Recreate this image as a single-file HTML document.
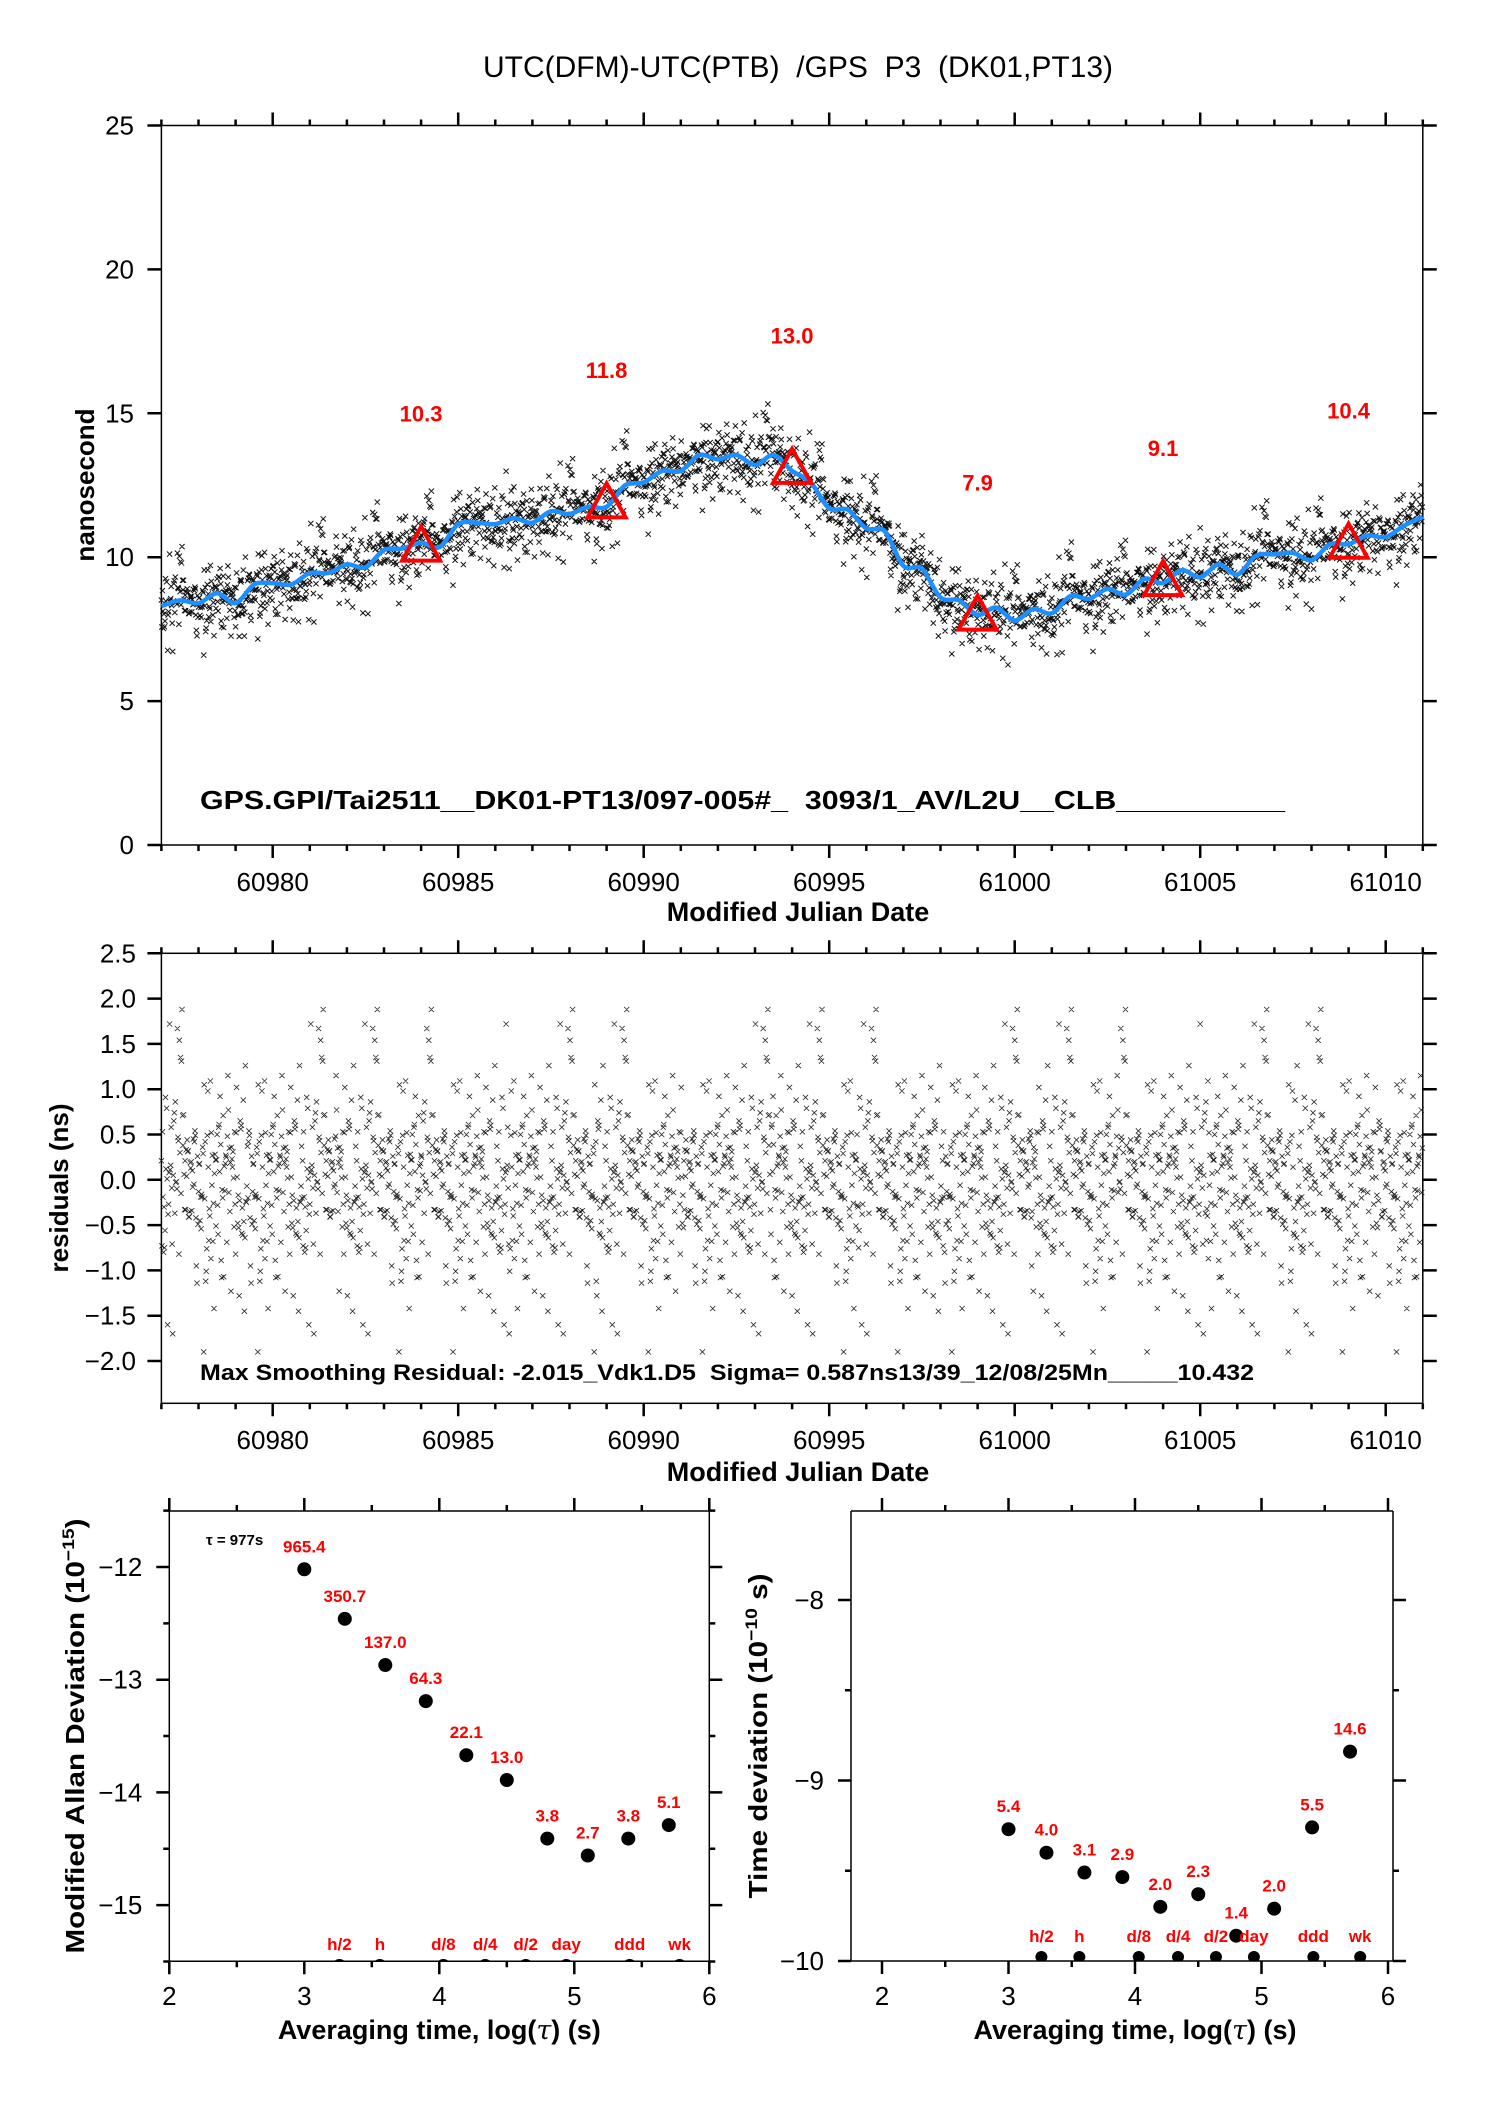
<!DOCTYPE html>
<html><head><meta charset="utf-8">
<style>
html,body{margin:0;padding:0;background:#fff;}
svg{display:block;font-family:"Liberation Sans",sans-serif;}
text{white-space:pre;}
</style></head>
<body>
<svg id="c" width="1488" height="2105" viewBox="0 0 1488 2105" xmlns="http://www.w3.org/2000/svg">
<rect x="0" y="0" width="1488" height="2105" fill="#fff"/>
<text x="798" y="77" font-size="30" text-anchor="middle">UTC(DFM)-UTC(PTB)  /GPS  P3  (DK01,PT13)</text>
<g id="top"></g>
<g id="mid"></g>
<g id="bl"></g>
<g id="br"></g>
</svg>
<script>
// ---------- data ----------
const smoothMjd = [60977,60977.5,60978,60978.5,60979,60979.5,60980,60980.5,60981,60981.5,60982,60982.5,60983,60983.5,60984,60984.5,60985,60985.5,60986,60986.5,60987,60987.5,60988,60988.5,60989,60989.5,60990,60990.5,60991,60991.5,60992,60992.5,60993,60993.5,60994,60994.5,60995,60995.5,60996,60996.5,60997,60997.5,60998,60998.5,60999,60999.5,61000,61000.5,61001,61001.5,61002,61002.5,61003,61003.5,61004,61004.5,61005,61005.5,61006,61006.5,61007,61007.5,61008,61008.5,61009,61009.5,61010,61010.5,61011];
const smoothNs = [8.3,8.5,8.4,8.75,8.4,9.05,9.1,9.05,9.45,9.45,9.75,9.65,10.25,10.3,10.5,10.35,11.15,11.2,11.15,11.35,11.2,11.6,11.5,11.75,11.75,12.5,12.6,13.0,13.0,13.55,13.4,13.55,13.2,13.55,13.0,12.6,11.7,11.65,11.0,10.9,9.7,9.6,8.6,8.5,8.0,8.25,7.8,8.2,8.05,8.65,8.55,8.9,8.7,9.25,9.1,9.55,9.3,9.75,9.4,10.05,10.1,10.15,9.9,10.45,10.45,10.75,10.7,11.1,11.4];
const triMjd = [60984,60989,60994,60999,61004,61009];
const triNs = [10.3,11.8,13.0,7.9,9.1,10.4];
const triLabels = ["10.3","11.8","13.0","7.9","9.1","10.4"];
const residuals = [0.21,-0.35,0.52,-0.08,0.74,-0.61,0.15,-1.12,0.44,-0.27,0.03,0.58,-0.45,1.31,-0.19,0.36,-0.68,0.42,-0.03,-1.45,0.27,0.49,-0.41,0.11,-0.53,0.92,-0.16,0.38,-0.75,0.31,0.07,-0.42,1.67,-0.24,0.48,-0.67,0.19,-0.09,0.65,-1.08,0.29,-0.33,0.12,0.53,-0.51,0.26,-0.82,0.37,-0.14,1.09,-0.34,0.05,-0.59,0.71,-0.21,0.33,-1.6,0.52,-0.28,0.17,1.35,-0.73,0.19,-0.06,0.45,-0.37,0.88,-0.12,-1.01,0.31,0.08,-0.48,0.61,-0.19,1.88,-0.8,0.23,-0.26,0.54,-0.02,-0.64,0.25,0.98,-0.41,0.16,-1.28,0.39,-0.19,0.72,-0.56,0.02,0.28,-0.95,0.47,-0.25,1.15,-0.32,0.13,-0.71,0.56,-0.11,-1.9,0.21,0.79,-0.27,0.22,-0.49,1.54,-0.2,0.35,-0.87,0.1,0.65,-0.31,-1.07,0.42,0.04,-0.38,1.02,-0.6,0.18,-0.15,0.53,-1.23,0.27,-0.05,0.86,-0.46,0.18,-0.76,0.32,1.72,-0.17,0.09,-0.54,0.71,-0.3,0.14,-1.42,0.49,-0.1,1.26,-0.69,0.14,-0.35,0.58,-0.23,-0.89,0.36,0.06,0.91,-0.52,0.22,-1.14,0.43,-0.07,0.77,-0.4,0.2,-1.7,0.6,-0.2,1.05,-0.33,0.01,-0.82,0.5,-0.13,0.3];
const allanTau = [3,3.3,3.6,3.9,4.2,4.5,4.8,5.1,5.4,5.7];
const allanVal = [-12.02,-12.46,-12.87,-13.19,-13.67,-13.89,-14.41,-14.56,-14.41,-14.29];
const allanLabels = ["965.4","350.7","137.0","64.3","22.1","13.0","3.8","2.7","3.8","5.1"];
const tdevTau = [3,3.3,3.6,3.9,4.2,4.5,4.8,5.1,5.4,5.7];
const tdevVal = [-9.27,-9.4,-9.51,-9.535,-9.7,-9.63,-9.86,-9.71,-9.26,-8.84];
const tdevLabels = ["5.4","4.0","3.1","2.9","2.0","2.3","1.4","2.0","5.5","14.6"];
const markTau = [3.26,3.56,4.03,4.34,4.64,4.94,5.41,5.78];
const markLabels = ["h/2","h","d/8","d/4","d/2","day","ddd","wk"];
const mjdTicks = [60980,60985,60990,60995,61000,61005,61010];
const topYTicks = [0,5,10,15,20,25];
const midYTicks = [2.5,2.0,1.5,1.0,0.5,0.0,-0.5,-1.0,-1.5,-2.0];
const logTicks = [2,3,4,5,6];
const allanYTicks = [-12,-13,-14,-15];
const tdevYTicks = [-8,-9,-10];

// ---------- helpers ----------
const NS='http://www.w3.org/2000/svg';
function mk(parent,tag,attrs,text){const e=document.createElementNS(NS,tag);for(const k in attrs)e.setAttribute(k,attrs[k]);if(text!==undefined)e.textContent=text;parent.appendChild(e);return e;}
function fmt(v,d){const s=Math.abs(v).toFixed(d);return (v<0?'\u2212':'')+s;}
function interp(m){for(let i=0;i<smoothMjd.length-1;i++){if(m<=smoothMjd[i+1]){const t=(m-smoothMjd[i])/(smoothMjd[i+1]-smoothMjd[i]);return smoothNs[i]+t*(smoothNs[i+1]-smoothNs[i]);}}return smoothNs[smoothNs.length-1];}
function smoothPath(pts){let d='M'+pts[0][0].toFixed(1)+','+pts[0][1].toFixed(1);for(let i=0;i<pts.length-1;i++){const p0=pts[Math.max(0,i-1)],p1=pts[i],p2=pts[i+1],p3=pts[Math.min(pts.length-1,i+2)];const c1=[p1[0]+(p2[0]-p0[0])/6,p1[1]+(p2[1]-p0[1])/6],c2=[p2[0]-(p3[0]-p1[0])/6,p2[1]-(p3[1]-p1[1])/6];d+='C'+c1[0].toFixed(1)+','+c1[1].toFixed(1)+' '+c2[0].toFixed(1)+','+c2[1].toFixed(1)+' '+p2[0].toFixed(1)+','+p2[1].toFixed(1);}return d;}
function resAt(n){const N=residuals.length;return residuals[(n*61+Math.floor(n/N)*17)%N];}

const M0=60977,M1=61011;
const XM=m=>272.7+(m-60980)*37.1;
const STEP=1/72;

// ---------- top panel ----------
(function(){
const g=document.getElementById('top');
const Y=v=>845-v*28.78;
const L=XM(M0),R=XM(M1),T=Y(25),B=Y(0);
let fr=mk(g,'rect',{x:L,y:T,width:R-L,height:B-T,fill:'none',stroke:'#000','stroke-width':1.5});

let td='';
for(let d=M0;d<=M1;d++){const x=XM(d);const maj=mjdTicks.includes(d);const len=maj?13:6;td+=`M${x},${B}v${len}M${x},${T}v${-len}`;}
topYTicks.forEach(v=>{td+=`M${L},${Y(v)}h-14M${R},${Y(v)}h14`;});
let tk=mk(g,'path',{d:td,stroke:'#000','stroke-width':2.5,fill:'none'});

mjdTicks.forEach(m=>{let t=mk(g,'text',{x:XM(m),y:891,'font-size':26,'text-anchor':'middle'},String(m));});
topYTicks.forEach(v=>{let t=mk(g,'text',{x:134,y:Y(v)+9,'font-size':26,'text-anchor':'end'},String(v));});
let xt=mk(g,'text',{x:798,y:921,'font-size':27,'font-weight':'bold','text-anchor':'middle'},'Modified Julian Date');

let yt=mk(g,'text',{x:0,y:0,'font-size':26,'font-weight':'bold','text-anchor':'middle',transform:'translate(94,485) rotate(-90)'},'nanosecond');

let sd='';let n=0;
for(let m=M0;m<=M1+1e-9;m+=STEP){const v=interp(m)+resAt(n);n++;const x=XM(m),y=Y(v);sd+=`M${(x-2.6).toFixed(1)},${(y-2.6).toFixed(1)}l5.2,5.2m0,-5.2l-5.2,5.2`;}
let sc=mk(g,'path',{d:sd,stroke:'#111','stroke-width':1,fill:'none'});

let bl=mk(g,'path',{d:smoothPath(smoothMjd.map((m,i)=>[XM(m),Y(smoothNs[i])])),stroke:'#1e8fff','stroke-width':4.5,fill:'none'});

triMjd.forEach((m,i)=>{const x=XM(m),y=Y(triNs[i]);
 let p=mk(g,'path',{d:`M${x},${y-22}L${x+19},${y+12}L${x-19},${y+12}Z`,stroke:'#ff0000','stroke-width':4,fill:'none'});
 
 let t=mk(g,'text',{x:x,y:Y(triNs[i]+4.7)+8,'font-size':22,'font-weight':'bold',fill:'#ff0000','text-anchor':'middle'},triLabels[i]);
 
});
let an=mk(g,'text',{x:200,y:809,'font-size':26,'font-weight':'bold',textLength:1085,lengthAdjust:'spacingAndGlyphs'},'GPS.GPI/Tai2511__DK01-PT13/097-005#_  3093/1_AV/L2U__CLB__________');

})();

// ---------- middle panel ----------
(function(){
const g=document.getElementById('mid');
const Y=v=>953.3+(2.5-v)*90.6;
const L=XM(M0),R=XM(M1),T=Y(2.5),B=1403.3;
let fr=mk(g,'rect',{x:L,y:T,width:R-L,height:B-T,fill:'none',stroke:'#000','stroke-width':1.5});

let td='';
for(let d=M0;d<=M1;d++){const x=XM(d);const maj=mjdTicks.includes(d);const len=maj?13:6;td+=`M${x},${B}v${len}M${x},${T}v${-len}`;}
midYTicks.forEach(v=>{td+=`M${L},${Y(v)}h-14M${R},${Y(v)}h14`;});
let tk=mk(g,'path',{d:td,stroke:'#000','stroke-width':2.5,fill:'none'});

mjdTicks.forEach(m=>{let t=mk(g,'text',{x:XM(m),y:1449,'font-size':26,'text-anchor':'middle'},String(m));});
midYTicks.forEach(v=>{let t=mk(g,'text',{x:136,y:Y(v)+9,'font-size':26,'text-anchor':'end'},fmt(v,1));});
let xt=mk(g,'text',{x:798,y:1481,'font-size':27,'font-weight':'bold','text-anchor':'middle'},'Modified Julian Date');

let yt=mk(g,'text',{x:0,y:0,'font-size':26,'font-weight':'bold','text-anchor':'middle',transform:'translate(68,1188) rotate(-90)'},'residuals (ns)');

let sd='';let n=0;
for(let m=M0;m<=M1+1e-9;m+=STEP){const v=resAt(n);n++;const x=XM(m),y=Y(v);sd+=`M${(x-2.6).toFixed(1)},${(y-2.6).toFixed(1)}l5.2,5.2m0,-5.2l-5.2,5.2`;}
let sc=mk(g,'path',{d:sd,stroke:'#222','stroke-width':0.8,fill:'none'});

let an=mk(g,'text',{x:200,y:1380,'font-size':22,'font-weight':'bold',textLength:1054,lengthAdjust:'spacingAndGlyphs'},'Max Smoothing Residual: -2.015_Vdk1.D5  Sigma= 0.587ns13/39_12/08/25Mn_____10.432');

})();

// ---------- stability panels ----------
function stabPanel(gid,X,Y,L,R,T,B,yTicks,tau,vals,labels,labelY,dotY,titleTxt,titleX,titleLen,prefix){
const g=document.getElementById(gid);
let fr=mk(g,'path',{d:`M${L},${T}H${R}M${L},${B}H${R}M${L},${T}V${B}M${R},${T}V${B}`,stroke:'#000','stroke-width':1.5,fill:'none'});

let td='';
for(let l=2;l<=6;l+=0.5){const x=X(l);const maj=Number.isInteger(l);const len=maj?13:6;td+=`M${x},${B}v${len}M${x},${T}v${-len}`;}
for(let v=Math.min(...yTicks)-0.5;v<=Math.max(...yTicks)+0.5;v+=0.5){const y=Y(v);if(y<T-1||y>B+1)continue;const len=Number.isInteger(v)?13:6;td+=`M${L},${y}h${-len}M${R},${y}h${len}`;}
let tk=mk(g,'path',{d:td,stroke:'#000','stroke-width':2.5,fill:'none'});

logTicks.forEach(l=>{let t=mk(g,'text',{x:X(l),y:2005,'font-size':26,'text-anchor':'middle'},String(l));});
yTicks.forEach(v=>{let t=mk(g,'text',{x:L-27,y:Y(v)+9,'font-size':26,'text-anchor':'end'},fmt(v,0));});
let xt=mk(g,'text',{x:(X(2)+X(6))/2,y:2039,'font-size':27,'font-weight':'bold','text-anchor':'middle'});

xt.innerHTML='Averaging time, log(<tspan font-family="DejaVu Serif" font-style="italic" font-weight="normal">τ</tspan>) (s)';
let yt=mk(g,'text',{x:0,y:0,'font-size':26,'font-weight':'bold','text-anchor':'middle',textLength:titleLen,lengthAdjust:'spacingAndGlyphs',transform:`translate(${titleX},1736) rotate(-90)`});

yt.innerHTML=titleTxt;
tau.forEach((l,i)=>{const x=X(l),y=Y(vals[i]);
 let c=mk(g,'circle',{cx:x,cy:y,r:7,fill:'#000'});
 let t=mk(g,'text',{x:x,y:y-17,'font-size':17,'font-weight':'bold',fill:'#ff0000','text-anchor':'middle'},labels[i]);
 
});
markTau.forEach((l,i)=>{const x=X(l);
 let c=mk(g,'circle',{cx:x,cy:dotY,r:dotY>B?7:6,fill:'#000','clip-path':'url(#clip-'+gid+')'});
 let t=mk(g,'text',{x:x,y:labelY,'font-size':17,'font-weight':'bold',fill:'#ff0000','text-anchor':'middle'},markLabels[i]);
 
});
const defs=mk(g,'defs',{});const cp=mk(defs,'clipPath',{id:'clip-'+gid});mk(cp,'rect',{x:L,y:T,width:R-L,height:B-T});
}
(function(){
const X=l=>169.3+(l-2)*135;const Y=v=>1567+(-12-v)*112.7;
stabPanel('bl',X,Y,169.3,709.3,1511,1961.3,allanYTicks,allanTau,allanVal,allanLabels,1950,1966,
 'Modified Allan Deviation (10<tspan font-size="17" dy="-10">−15</tspan><tspan dy="10">)</tspan>',84,435,'allan');
let t=mk(document.getElementById('bl'),'text',{x:206,y:1545,'font-size':15,'font-weight':'bold'},'τ = 977s');

})();
(function(){
const X=l=>882+(l-2)*126.5;const Y=v=>1961-(v+10)*180.5;
stabPanel('br',X,Y,851,1393,1511,1961,tdevYTicks,tdevTau,tdevVal,tdevLabels,1942,1957,
 'Time deviation (10<tspan font-size="17" dy="-10">−10</tspan><tspan dy="10"> s)</tspan>',767,325,'tdev');
})();
</script>
</body></html>
